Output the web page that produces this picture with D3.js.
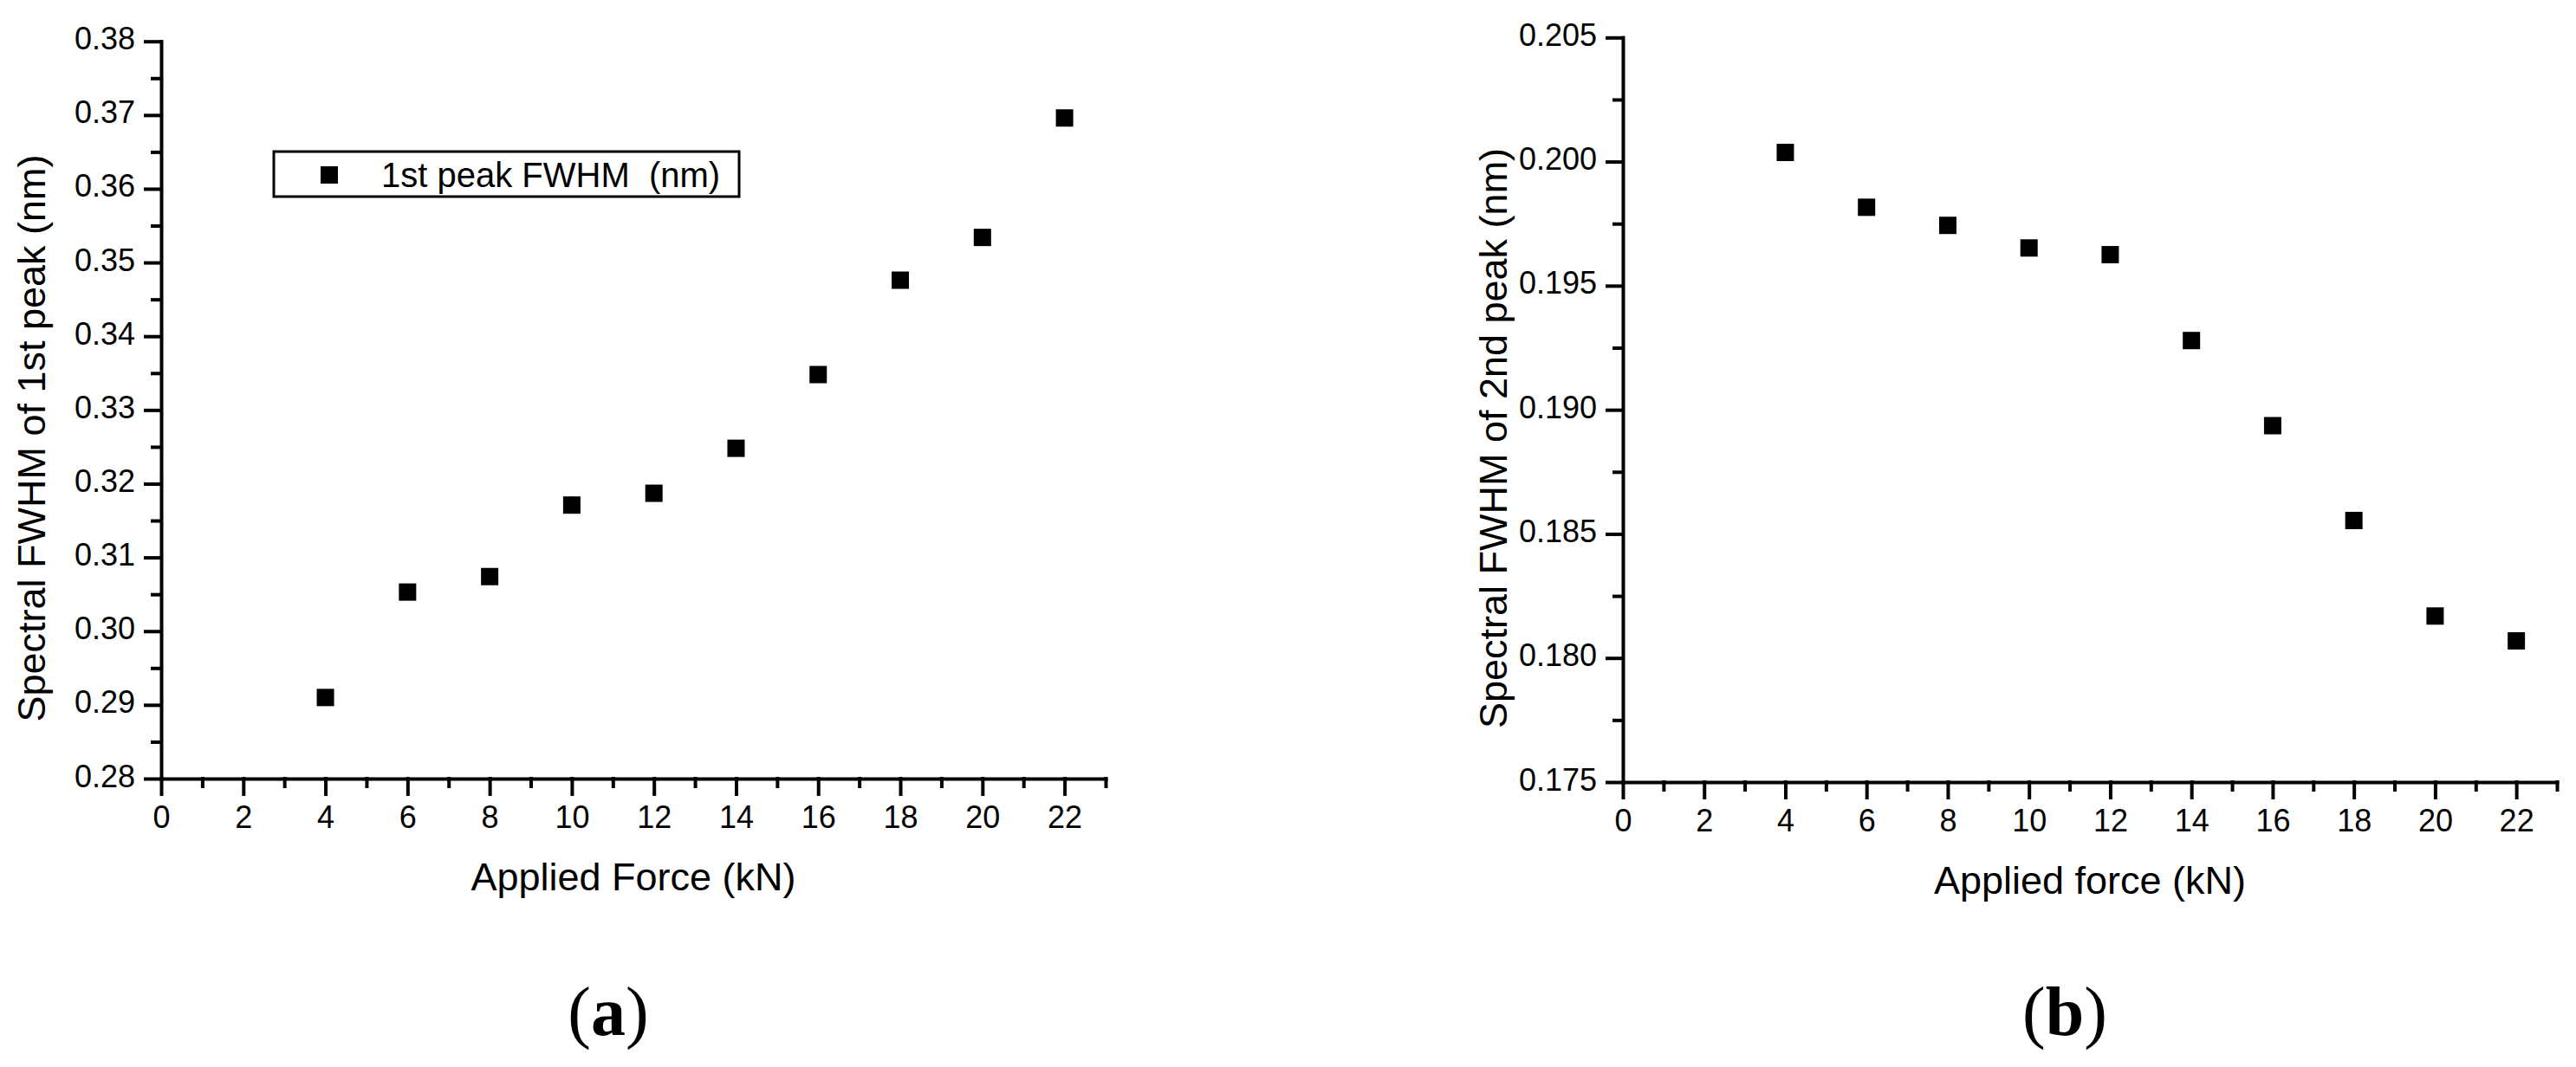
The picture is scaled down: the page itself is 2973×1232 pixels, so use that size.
<!DOCTYPE html>
<html>
<head>
<meta charset="utf-8">
<script src="https://cdn.jsdelivr.net/npm/d3@7"></script>
<style>
  body { margin: 0; background: #fff; }
  svg { display: block; font-family: "Liberation Sans", Arial, sans-serif; }
  .tick text { font-size: 36px; fill: #000; }
</style>
</head>
<body>
<svg width="2973" height="1232"></svg>
<script>
// values
const FORCE_KN = [4, 6, 8, 10, 12, 14, 16, 18, 20, 22];
const FWHM_1ST = [0.291, 0.3053, 0.3074, 0.3171, 0.3187, 0.3248, 0.3348, 0.3476, 0.3534, 0.3696];
const FWHM_2ND = [0.20037, 0.19816, 0.19743, 0.19652, 0.19625, 0.19279, 0.18936, 0.18554, 0.18169, 0.18069];

const X_MAJOR = [0, 2, 4, 6, 8, 10, 12, 14, 16, 18, 20, 22];
const X_MINOR = [1, 3, 5, 7, 9, 11, 13, 15, 17, 19, 21, 23];
const Y1_MAJOR = [0.28, 0.29, 0.3, 0.31, 0.32, 0.33, 0.34, 0.35, 0.36, 0.37, 0.38];
const Y2_MAJOR = [0.175, 0.18, 0.185, 0.19, 0.195, 0.2, 0.205];

const svg = d3.select("svg");

function drawPanel(p) {
  const x = d3.scaleLinear().domain([0, 23]).range([p.left, p.right]);
  const y = d3.scaleLinear().domain(p.yDomain).range([p.bottom, p.top]);
  const g = svg.append("g");

  // minor ticks first so the axis line covers their roots
  g.append("g")
    .attr("transform", `translate(0,${p.bottom})`)
    .call(d3.axisBottom(x).tickValues(X_MINOR).tickSize(9).tickFormat(""))
    .call((a) => a.select(".domain").remove());
  g.append("g")
    .attr("transform", `translate(${p.left},0)`)
    .call(d3.axisLeft(y).tickValues(p.yMinor).tickSize(10).tickFormat(""))
    .call((a) => a.select(".domain").remove());

  const xAxis = g.append("g")
    .attr("transform", `translate(0,${p.bottom})`)
    .call(d3.axisBottom(x).tickValues(X_MAJOR).tickSize(18).tickSizeOuter(0).tickPadding(13).tickFormat(d3.format("d")));
  const yAxis = g.append("g")
    .attr("transform", `translate(${p.left},0)`)
    .call(d3.axisLeft(y).tickValues(p.yMajor).tickSize(18).tickSizeOuter(0).tickPadding(12).tickFormat(d3.format(p.yFormat)));
  yAxis.selectAll(".tick text").attr("dy", "0.25em");

  g.selectAll(".domain, .tick line")
    .attr("stroke", "#000")
    .attr("stroke-width", 4)
    .attr("stroke-linecap", "square");

  const size = 20;
  g.selectAll(".pt")
    .data(FORCE_KN.map((f, i) => [f, p.values[i]]))
    .enter()
    .append("rect")
    .classed("pt", true)
    .attr("x", (d) => x(d[0]) - size / 2)
    .attr("y", (d) => y(d[1]) - size / 2)
    .attr("width", size)
    .attr("height", size)
    .attr("fill", "#000");

  g.append("text")
    .attr("x", (p.left + p.right) / 2)
    .attr("y", p.bottom + 129)
    .attr("text-anchor", "middle")
    .attr("font-size", 45)
    .text(p.xTitle);

  g.append("text")
    .attr("transform", `translate(${p.left - 134},506) rotate(-90)`)
    .attr("text-anchor", "middle")
    .attr("font-size", 45)
    .text(p.yTitle);

  const tag = g.append("text")
    .attr("x", (p.left + p.right) / 2 - 29)
    .attr("y", 1195)
    .attr("text-anchor", "middle")
    .attr("font-family", '"Liberation Serif", "Times New Roman", serif')
    .attr("font-size", 80);
  tag.append("tspan").text("(");
  tag.append("tspan").attr("font-weight", "bold").text(p.tag);
  tag.append("tspan").text(")");

  return { x, y, g };
}

const left = drawPanel({
  left: 186, right: 1276, top: 47.7, bottom: 899,
  yDomain: [0.28, 0.38],
  yMajor: Y1_MAJOR,
  yMinor: d3.range(10).map((i) => 0.285 + i * 0.01),
  yFormat: ".2f",
  values: FWHM_1ST,
  xTitle: "Applied Force (kN)",
  yTitle: "Spectral FWHM of 1st peak (nm)",
  tag: "a",
});

drawPanel({
  left: 1873, right: 2951, top: 43.3, bottom: 903,
  yDomain: [0.175, 0.205],
  yMajor: Y2_MAJOR,
  yMinor: d3.range(6).map((i) => 0.1775 + i * 0.005),
  yFormat: ".3f",
  values: FWHM_2ND,
  xTitle: "Applied force (kN)",
  yTitle: "Spectral FWHM of 2nd peak (nm)",
  tag: "b",
});

// legend of panel (a)
const legend = left.g.append("g");
legend.append("rect")
  .attr("x", 316).attr("y", 175)
  .attr("width", 537).attr("height", 52)
  .attr("fill", "#fff")
  .attr("stroke", "#000")
  .attr("stroke-width", 3);
legend.append("rect")
  .attr("x", 370).attr("y", 192)
  .attr("width", 20).attr("height", 20)
  .attr("fill", "#000");
legend.append("text")
  .attr("x", 440).attr("y", 216)
  .attr("font-size", 40)
  .style("white-space", "pre")
  .text("1st peak FWHM  (nm)");
</script>
</body>
</html>
